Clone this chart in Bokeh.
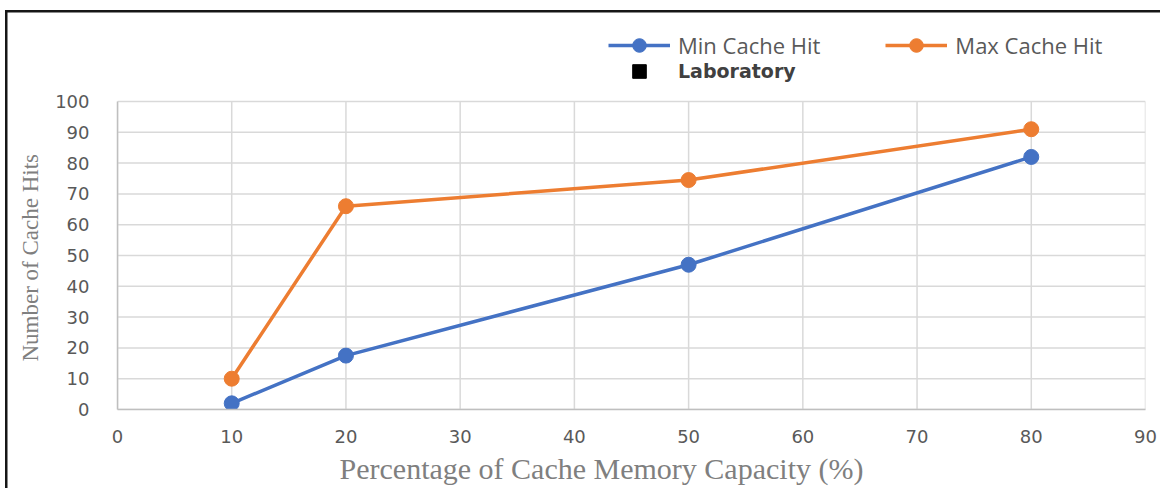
from bokeh.plotting import figure
from bokeh.models import Legend, LegendItem, FixedTicker, Range1d
from bokeh.embed import file_html
from bokeh.resources import INLINE

capacity = [10, 20, 50, 80]
min_hits = [2, 17.5, 47, 82]
max_hits = [10, 66, 74.5, 91]
x_ticks = [0, 10, 20, 30, 40, 50, 60, 70, 80, 90]
y_ticks = [0, 10, 20, 30, 40, 50, 60, 70, 80, 90, 100]

BLUE = "#4472C4"
ORANGE = "#ED7D31"
TICK_COLOR = "#595959"
GRID = "#d9d9d9"

X_MAX = x_ticks[-1]
Y_MAX = y_ticks[-1]
NB = "\u00a0"

p = figure(width=1160, height=488, output_backend="svg", toolbar_location=None,
           x_range=Range1d(0, X_MAX), y_range=Range1d(0, 124.68),
           min_border_left=117, min_border_right=15, min_border_top=25, min_border_bottom=79)
p.border_fill_color = None
p.styles = {"background": "linear-gradient(#161616,#161616) 5px 10px / 100% 2.5px no-repeat, "
                          "linear-gradient(#161616,#161616) 5px 10px / 2.5px 100% no-repeat, #ffffff"}

p.outline_line_color = None
p.xgrid.visible = False
p.ygrid.visible = False

# gridlines restricted to the 0..100 data area
p.segment(x0=x_ticks, y0=[0] * len(x_ticks), x1=x_ticks, y1=[Y_MAX] * len(x_ticks),
          line_color=GRID, line_width=1.5)
p.segment(x0=[0] * len(y_ticks), y0=y_ticks, x1=[X_MAX] * len(y_ticks), y1=y_ticks,
          line_color=GRID, line_width=1.5)

for ax in (p.xaxis[0], p.yaxis[0]):
    ax.axis_line_color = "#bfbfbf"
    ax.axis_line_width = 1.5
    ax.major_tick_line_color = None
    ax.minor_tick_line_color = None
    ax.major_label_text_font = "DejaVu Sans"
    ax.major_label_text_font_size = "18px"
    ax.major_label_text_color = TICK_COLOR
    ax.axis_label_text_font = "Liberation Serif"
    ax.axis_label_text_font_style = "normal"
    ax.axis_label_text_color = "#7f7f7f"

p.yaxis.bounds = (0, Y_MAX)
p.xaxis.ticker = FixedTicker(ticks=x_ticks)
p.yaxis.ticker = FixedTicker(ticks=y_ticks)
p.xaxis.major_label_standoff = 14
p.yaxis.major_label_standoff = 22
p.xaxis.axis_label = "Percentage of Cache Memory Capacity (%)" + NB * 8
p.yaxis.axis_label = "Number of Cache Hits" + NB * 14
p.xaxis.axis_label_text_font_size = "30px"
p.yaxis.axis_label_text_font_size = "23px"
p.xaxis.axis_label_standoff = 6
p.yaxis.axis_label_standoff = 9

l_min = p.line(capacity, min_hits, line_color=BLUE, line_width=3.5)
s_min = p.scatter(capacity, min_hits, size=15, fill_color=BLUE, line_color=BLUE)
l_max = p.line(capacity, max_hits, line_color=ORANGE, line_width=3.5)
s_max = p.scatter(capacity, max_hits, size=15, fill_color=ORANGE, line_color=ORANGE)
lab = p.scatter([float("nan")], [float("nan")], marker="square", size=13,
                fill_color="black", line_color="black")

legend1 = Legend(items=[
    LegendItem(label="Min Cache Hit", renderers=[l_min, s_min]),
    LegendItem(label="Max Cache Hit", renderers=[l_max, s_max]),
], orientation="horizontal", location=(491, 347), border_line_color=None, background_fill_alpha=0,
    label_text_font="Open Sans", label_text_font_size="22px", label_text_color=TICK_COLOR,
    glyph_width=62, glyph_height=34, label_standoff=8, spacing=65, padding=0, margin=0)
legend2 = Legend(items=[
    LegendItem(label="Laboratory", renderers=[lab]),
], location=(491, 321), border_line_color=None, background_fill_alpha=0,
    label_text_font="DejaVu Sans", label_text_font_style="bold", label_text_font_size="19px",
    label_text_color="#404040",
    glyph_width=62, glyph_height=34, label_standoff=8, padding=0, margin=0)
p.add_layout(legend1, "center")
p.add_layout(legend2, "center")

open("out.html", "w").write(file_html(p, INLINE))
